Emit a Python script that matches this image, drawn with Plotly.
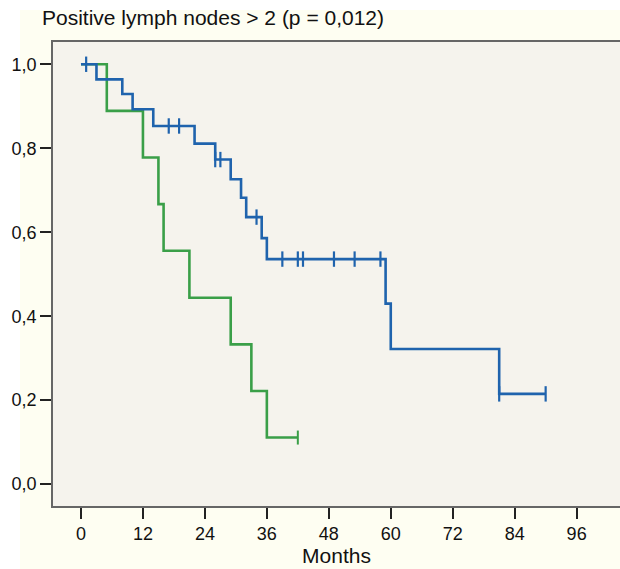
import plotly.graph_objects as go

# Kaplan-Meier step data
blue_times = [0, 3, 8, 10, 14, 22, 26, 29, 31, 32, 35, 36, 59, 60, 81, 90]
blue_surv = [1.0, 0.964, 0.929, 0.893, 0.853, 0.811, 0.773, 0.726, 0.682, 0.636, 0.586, 0.536, 0.430, 0.322, 0.215, 0.215]
blue_cens_times = [1, 17, 19, 26, 27, 34, 39, 42, 43, 49, 53, 58, 81, 90]
blue_cens_surv = [1.0, 0.853, 0.853, 0.773, 0.773, 0.636, 0.536, 0.536, 0.536, 0.536, 0.536, 0.536, 0.215, 0.215]

green_times = [0, 5, 12, 15, 16, 21, 29, 33, 36, 42]
green_surv = [1.0, 0.889, 0.778, 0.667, 0.556, 0.444, 0.333, 0.222, 0.111, 0.111]
green_cens_times = [42]
green_cens_surv = [0.111]

x_ticks = [0, 12, 24, 36, 48, 60, 72, 84, 96]
y_ticks = [0.0, 0.2, 0.4, 0.6, 0.8, 1.0]
y_labels = ["0,0", "0,2", "0,4", "0,6", "0,8", "1,0"]

BLUE = "#1f63ad"
GREEN = "#3a9f48"

fig = go.Figure()
fig.add_trace(go.Scatter(x=green_times, y=green_surv, mode="lines",
                         line=dict(shape="hv", color=GREEN, width=2.6),
                         showlegend=False, hoverinfo="skip"))
fig.add_trace(go.Scatter(x=green_cens_times, y=green_cens_surv, mode="markers",
                         marker=dict(symbol="line-ns", size=10, line=dict(color=GREEN, width=2)),
                         showlegend=False, hoverinfo="skip"))
fig.add_trace(go.Scatter(x=blue_times, y=blue_surv, mode="lines",
                         line=dict(shape="hv", color=BLUE, width=2.6),
                         showlegend=False, hoverinfo="skip"))
fig.add_trace(go.Scatter(x=blue_cens_times, y=blue_cens_surv, mode="markers",
                         marker=dict(symbol="line-ns", size=11, line=dict(color=BLUE, width=2.2)),
                         showlegend=False, hoverinfo="skip"))

# white strips at the far left and top (outside the yellowish paper area)
fig.add_shape(type="rect", xref="paper", yref="paper", x0=-0.2, x1=-0.0582, y0=-0.2, y1=1.2,
              fillcolor="white", line=dict(width=0), layer="below")
fig.add_shape(type="rect", xref="paper", yref="paper", x0=-0.2, x1=1.2, y0=1.069, y1=1.2,
              fillcolor="white", line=dict(width=0), layer="below")

fig.update_layout(
    width=620, height=569,
    margin=dict(l=53, r=0, t=42, b=63),
    paper_bgcolor="#fefef2",
    plot_bgcolor="#f5f3ed",
    font=dict(family="Liberation Sans, Arial, sans-serif", color="#111", size=18),
    title=dict(text="Positive lymph nodes > 2 (p = 0,012)", x=0.0, xref="paper",
               xanchor="left", yref="container", y=1 - 18 / 569, yanchor="middle",
               font=dict(size=21, color="#111"), pad=dict(l=-11)),
)
fig.update_xaxes(range=[-5.42, 104.4], tickvals=x_ticks, ticks="outside", ticklen=11,
                 tickwidth=2.2, tickcolor="#222", showgrid=False, zeroline=False,
                 showline=True, linecolor="#666", linewidth=1.6, mirror=True,
                 title=dict(text="Months", font=dict(size=21), standoff=3),
                 tickfont=dict(size=18))
fig.update_yaxes(range=[-0.052, 1.053], tickvals=y_ticks, ticktext=y_labels,
                 ticks="outside", ticklen=11, tickwidth=2.2, tickcolor="#222",
                 showgrid=False, zeroline=False, showline=True, linecolor="#666",
                 linewidth=1.6, tickfont=dict(size=18))

fig.write_html(
    "out.html",
    config={"displayModeBar": False},
    post_script="document.body.style.margin='0';document.documentElement.style.overflow='hidden';document.body.style.overflow='hidden';",
)
